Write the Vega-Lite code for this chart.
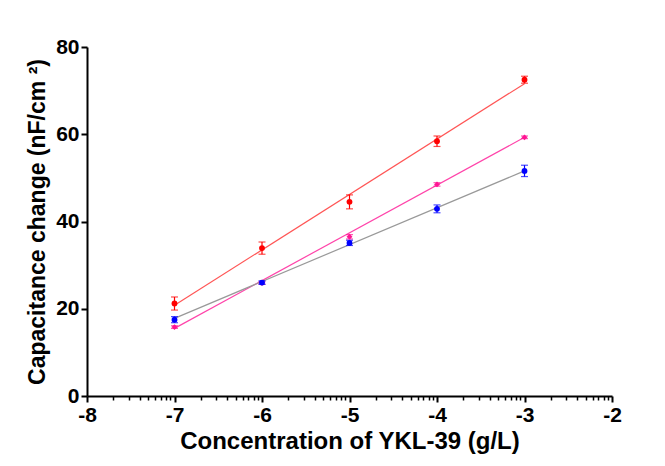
{
  "$schema": "https://vega.github.io/schema/vega-lite/v6.json",
  "autosize": "none",
  "width": 525,
  "height": 349,
  "padding": {"left": 87, "top": 47, "right": 53, "bottom": 70},
  "background": "white",
  "config": {
    "view": {"stroke": null},
    "font": "Liberation Sans",
    "axis": {
      "domainColor": "black",
      "domainWidth": 2,
      "tickColor": "black",
      "grid": false,
      "labelFont": "Liberation Sans",
      "labelFontWeight": "bold",
      "labelFontSize": 21,
      "labelColor": "black",
      "titleFont": "Liberation Sans",
      "titleFontWeight": "bold",
      "titleFontSize": 23,
      "titleColor": "black"
    }
  },
  "datasets": {
    "points": [
      {"series": "A", "x": -7, "y": 21.2, "lo": 19.7, "hi": 22.7},
      {"series": "A", "x": -6, "y": 33.9, "lo": 32.5, "hi": 35.3},
      {"series": "A", "x": -5, "y": 44.5, "lo": 42.9, "hi": 46.1},
      {"series": "A", "x": -4, "y": 58.4, "lo": 57.2, "hi": 59.6},
      {"series": "A", "x": -3, "y": 72.5, "lo": 71.7, "hi": 73.3},
      {"series": "B", "x": -7, "y": 15.8, "lo": 15.5, "hi": 16.1},
      {"series": "B", "x": -6, "y": 25.9, "lo": 25.6, "hi": 26.2},
      {"series": "B", "x": -5, "y": 36.5, "lo": 36.0, "hi": 37.0},
      {"series": "B", "x": -4, "y": 48.5, "lo": 48.1, "hi": 48.9},
      {"series": "B", "x": -3, "y": 59.3, "lo": 59.0, "hi": 59.6},
      {"series": "C", "x": -7, "y": 17.5, "lo": 16.8, "hi": 18.2},
      {"series": "C", "x": -6, "y": 26.0, "lo": 25.6, "hi": 26.4},
      {"series": "C", "x": -5, "y": 35.1, "lo": 34.5, "hi": 35.7},
      {"series": "C", "x": -4, "y": 42.9, "lo": 42.0, "hi": 43.8},
      {"series": "C", "x": -3, "y": 51.6, "lo": 50.3, "hi": 52.9}
    ],
    "fits": [
      {"series": "A fit", "x": -7, "y": 20.8},
      {"series": "A fit", "x": -3, "y": 71.6},
      {"series": "B fit", "x": -7, "y": 15.5},
      {"series": "B fit", "x": -3, "y": 59.3},
      {"series": "C fit", "x": -7, "y": 17.8},
      {"series": "C fit", "x": -3, "y": 51.6}
    ]
  },
  "layer": [
    {
      "data": {"name": "fits"},
      "mark": {"type": "line", "strokeWidth": 1.2},
      "encoding": {
        "x": {
          "field": "x", "type": "quantitative",
          "scale": {"domain": [-8, -2], "nice": false, "zero": false},
          "axis": {
            "title": "Concentration of YKL-39 (g/L)",
            "titleFontSize": 24,
            "orient": "bottom",
            "values": [-8, -7, -6, -5, -4, -3, -2],
            "labelExpr": "'' + datum.value",
            "tickSize": 6,
            "tickWidth": 2,
            "labelPadding": 2,
            "titlePadding": 4,
            "labelFlush": false,
            "labelOverlap": false
          }
        },
        "y": {
          "field": "y", "type": "quantitative",
          "scale": {"domain": [0, 80], "nice": false},
          "axis": {
            "title": "Capacitance change (nF/cm ²)",
            "values": [0, 20, 40, 60, 80],
            "tickSize": 6,
            "tickWidth": 2,
            "labelPadding": 2,
            "titlePadding": 6
          }
        },
        "color": {
          "field": "series", "type": "nominal",
          "scale": {
            "domain": ["A", "B", "C", "A fit", "B fit", "C fit"],
            "range": ["#ff0000", "#ff1493", "#0000ff", "#ff5555", "#ff44aa", "#999999"]
          },
          "legend": null
        }
      }
    },
    {
      "data": {"name": "points"},
      "mark": {"type": "rule", "strokeWidth": 1.2},
      "encoding": {
        "x": {
          "field": "x", "type": "quantitative",
          "axis": {
            "orient": "bottom",
            "title": null,
            "labels": false,
            "domain": false,
            "values": [-7.69897, -7.52288, -7.39794, -7.30103, -7.22185, -7.15490, -7.09691, -7.04576,
                       -6.69897, -6.52288, -6.39794, -6.30103, -6.22185, -6.15490, -6.09691, -6.04576,
                       -5.69897, -5.52288, -5.39794, -5.30103, -5.22185, -5.15490, -5.09691, -5.04576,
                       -4.69897, -4.52288, -4.39794, -4.30103, -4.22185, -4.15490, -4.09691, -4.04576,
                       -3.69897, -3.52288, -3.39794, -3.30103, -3.22185, -3.15490, -3.09691, -3.04576,
                       -2.69897, -2.52288, -2.39794, -2.30103, -2.22185, -2.15490, -2.09691, -2.04576],
            "tickSize": 4,
            "tickWidth": 1.5
          }
        },
        "y": {"field": "lo", "type": "quantitative"},
        "y2": {"field": "hi"},
        "color": {"field": "series", "type": "nominal", "legend": null}
      }
    },
    {
      "data": {"name": "points"},
      "mark": {"type": "tick", "orient": "horizontal", "size": 7, "thickness": 1.2},
      "encoding": {
        "x": {"field": "x", "type": "quantitative", "axis": null},
        "y": {"field": "lo", "type": "quantitative"},
        "color": {"field": "series", "type": "nominal", "legend": null}
      }
    },
    {
      "data": {"name": "points"},
      "mark": {"type": "tick", "orient": "horizontal", "size": 7, "thickness": 1.2},
      "encoding": {
        "x": {"field": "x", "type": "quantitative", "axis": null},
        "y": {"field": "hi", "type": "quantitative"},
        "color": {"field": "series", "type": "nominal", "legend": null}
      }
    },
    {
      "data": {"name": "points"},
      "mark": {"type": "point", "filled": true, "opacity": 1, "size": 34},
      "encoding": {
        "x": {"field": "x", "type": "quantitative", "axis": null},
        "y": {"field": "y", "type": "quantitative"},
        "shape": {
          "field": "series", "type": "nominal",
          "scale": {"domain": ["A", "B", "C"], "range": ["circle", "diamond", "circle"]},
          "legend": null
        },
        "color": {"field": "series", "type": "nominal", "legend": null}
      }
    }
  ],
  "resolve": {"axis": {"x": "independent"}}
}
